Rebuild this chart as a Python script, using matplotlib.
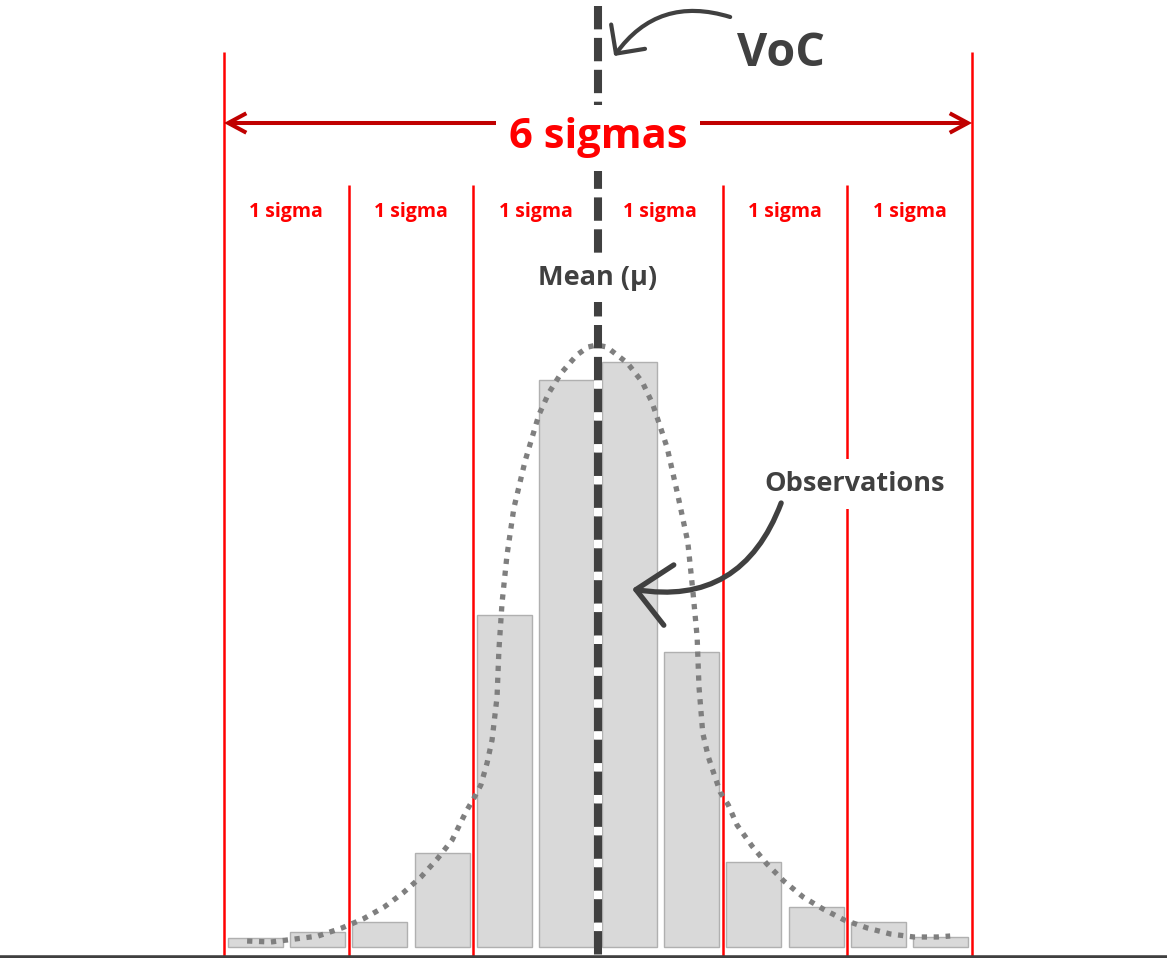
import matplotlib
matplotlib.use("Agg")
import matplotlib.pyplot as plt
from matplotlib.patches import FancyArrowPatch, ArrowStyle

plt.rcParams['font.family'] = ['Open Sans', 'DejaVu Sans']

# Histogram of observations, binned in half-sigma steps from -3σ to +3σ
bin_centers = [-2.75, -2.25, -1.75, -1.25, -0.75, -0.25,
               0.25, 0.75, 1.25, 1.75, 2.25, 2.75]
counts = [0.9, 1.5, 2.5, 9.4, 33.2, 56.7, 58.5, 29.5, 8.5, 4.0, 2.5, 1.0]

# Fitted distribution curve (sigma units, count units)
curve_z = [-2.815, -2.625, -2.43, -2.245, -2.055, -1.885, -1.715, -1.565,
           -1.42, -1.29, -1.17, -1.06, -0.995, -0.94, -0.89, -0.85, -0.81,
           -0.795, -0.77, -0.73, -0.675, -0.585, -0.475, -0.395, -0.295,
           -0.17, -0.08, -0.01, 0.07, 0.235, 0.355, 0.435, 0.50, 0.555,
           0.64, 0.72, 0.76, 0.795, 0.81, 0.84, 0.885, 0.925, 0.98, 1.045,
           1.115, 1.235, 1.355, 1.49, 1.645, 1.805, 1.975, 2.16, 2.345,
           2.535, 2.72, 2.825]
curve_y = [0.6, 0.5, 0.8, 1.1, 1.9, 2.8, 4.0, 5.4, 7.0, 8.8, 10.7, 13.5,
           14.9, 16.2, 18.4, 20.7, 25.0, 29.7, 34.4, 39.2, 43.9, 48.6, 53.2,
           55.4, 57.4, 59.2, 60.0, 60.2, 60.0, 58.4, 56.5, 54.4, 52.0, 49.9,
           45.2, 40.5, 35.7, 31.0, 26.0, 21.4, 19.0, 17.5, 15.5, 14.2, 12.2,
           10.1, 8.3, 6.6, 5.0, 3.8, 2.7, 1.9, 1.3, 1.0, 1.0, 1.1]

sigma_bounds = [-3, -2, -1, 0, 1, 2, 3]
sigma_labels = ['1 sigma'] * 6
sigma_label_pos = [-2.5, -1.5, -0.5, 0.5, 1.5, 2.5]

RED = '#ff0000'
DARKRED = '#c00000'
DARK = '#404040'

fig = plt.figure(figsize=(11.67, 9.58), dpi=100)
ax = fig.add_axes([0, 0, 1, 1])
ax.set_xlim(-4.797, 4.564)
ax.set_ylim(-1.1, 94.7)
ax.axis('off')

# Bars
ax.bar(bin_centers, counts, width=0.44, color='#d9d9d9',
       edgecolor='#b0b0b0', linewidth=1.0, zorder=2)

# Sigma boundaries: outer ones taller
for b in sigma_bounds:
    if b == 0:
        continue
    top = 89.5 if abs(b) == 3 else 76.2
    ax.plot([b, b], [top, -1.1], color=RED, lw=1.8, zorder=3,
            solid_capstyle='butt')

# Fitted curve
ax.plot(curve_z, curve_y, color='#7f7f7f', lw=3.8,
        linestyle=(0, (1, 1.26)), dash_capstyle='butt', zorder=4)

# Mean line
ax.plot([0, 0], [94.1, -1.1], color=DARK, lw=5.8,
        linestyle=(0, (2.9, 1.06)), gapcolor='white',
        dash_capstyle='butt', zorder=5)

# Base line
ax.axhline(-0.95, color=DARK, lw=3.3, zorder=6)

# 6 sigma span arrow
span = FancyArrowPatch((-3, 82.4), (3, 82.4),
                       arrowstyle=ArrowStyle('<->', head_length=13, head_width=7),
                       color=DARKRED, lw=2.9, shrinkA=0, shrinkB=0,
                       mutation_scale=1, zorder=6, capstyle='butt',
                       joinstyle='miter')
ax.add_patch(span)
ax.text(0, 79.9, '6 sigmas', color=RED, fontsize=30, fontweight='bold',
        ha='center', va='baseline', zorder=7,
        bbox=dict(boxstyle='square,pad=0.3', fc='white', ec='none'))

for x, lab in zip(sigma_label_pos, sigma_labels):
    ax.text(x, 73.0, lab, color=RED, fontsize=14, fontweight='bold',
            ha='center', va='baseline', zorder=7)

ax.text(0, 66.2, 'Mean (μ)', color=DARK, fontsize=19.5, fontweight='bold',
        ha='center', va='baseline', zorder=7,
        bbox=dict(boxstyle='square,pad=0.4', fc='white', ec='none'))

ax.text(1.115, 88.1, 'VoC', color=DARK, fontsize=33.5, fontweight='bold',
        ha='left', va='baseline', zorder=7)

ax.text(2.06, 45.6, 'Observations', color=DARK, fontsize=19.5,
        fontweight='bold', ha='center', va='baseline', zorder=7,
        bbox=dict(boxstyle='square,pad=0.45', fc='white', ec='none'))

# Callout arrows
voc_arrow = FancyArrowPatch((1.06, 93.0), (0.13, 89.1),
                            connectionstyle='arc3,rad=0.36',
                            arrowstyle=ArrowStyle('->', head_length=15, head_width=15),
                            color=DARK, lw=3.0, shrinkA=0, shrinkB=0,
                            mutation_scale=1, zorder=8, capstyle='round')
ax.add_patch(voc_arrow)

obs_arrow = FancyArrowPatch((1.469, 44.4), (0.273, 35.8),
                            connectionstyle='arc3,rad=-0.41',
                            arrowstyle=ArrowStyle('->', head_length=24, head_width=22),
                            color=DARK, lw=3.8, shrinkA=0, shrinkB=0,
                            mutation_scale=1, zorder=8, capstyle='round')
ax.add_patch(obs_arrow)

fig.savefig('out.png', dpi=100)
